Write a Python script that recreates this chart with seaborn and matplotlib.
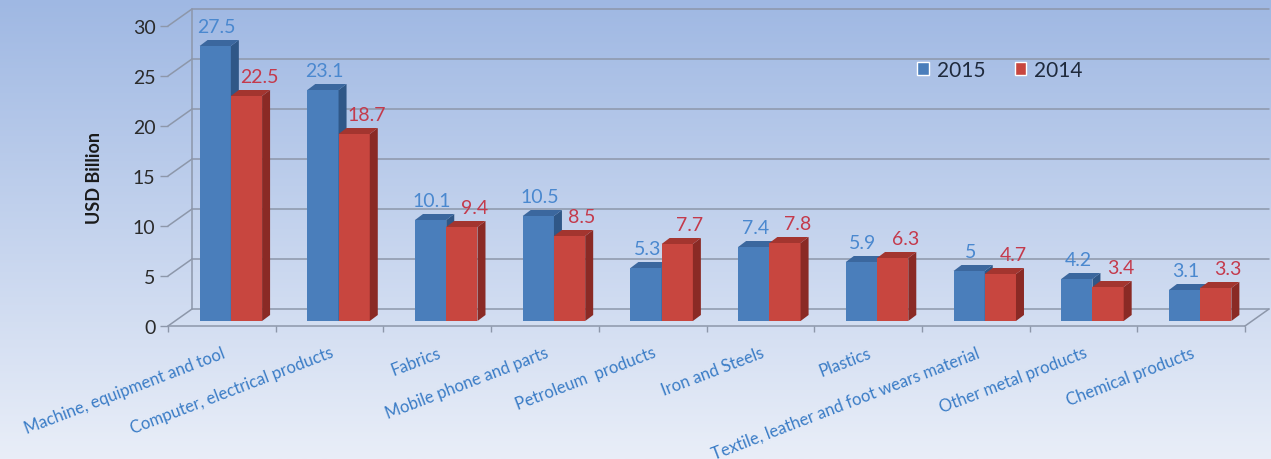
import numpy as np
import pandas as pd
import matplotlib
matplotlib.use("Agg")
import matplotlib.pyplot as plt
import matplotlib.colors as mcolors
import matplotlib.transforms as mtransforms
from matplotlib.patches import Polygon
import seaborn as sns

# data
categories = ["Machine, equipment and tool", "Computer, electrical products", "Fabrics",
              "Mobile phone and parts", "Petroleum  products", "Iron and Steels", "Plastics",
              "Textile, leather and foot wears material", "Other metal products", "Chemical products"]
values_2015 = [27.5, 23.1, 10.1, 10.5, 5.3, 7.4, 5.9, 5.0, 4.2, 3.1]
values_2014 = [22.5, 18.7, 9.4, 8.5, 7.7, 7.8, 6.3, 4.7, 3.4, 3.3]
years = ["2015", "2014"]
y_ticks = [0, 5, 10, 15, 20, 25, 30]

front_colors = {"2015": "#4a7ebb", "2014": "#c8463f"}
side_colors = {"2015": "#2f5787", "2014": "#8a2a25"}
top_colors = {"2015": "#3b679e", "2014": "#a3352f"}
label_colors = {"2015": "#4a88cf", "2014": "#c43a4c"}
grid_color = "#8d97aa"

df = pd.DataFrame({
    "category": categories * 2,
    "value": values_2015 + values_2014,
    "year": [years[0]] * len(categories) + [years[1]] * len(categories),
})

sns.set_style("white")
plt.rcParams["font.family"] = ["Lato", "DejaVu Sans"]

W, H = 1271, 460
fig = plt.figure(figsize=(W / 100, H / 100), dpi=100)

# blue gradient background
bg = fig.add_axes([0, 0, 1, 1], zorder=-10)
top_c = np.array(mcolors.to_rgb("#9fb8e3"))
bot_c = np.array(mcolors.to_rgb("#e9eef8"))
t = np.linspace(0, 1, 256)[:, None, None]
bg.imshow(top_c + (bot_c - top_c) * t, aspect="auto", extent=[0, 1, 0, 1])
bg.axis("off")

# front plane of the plot, in pixels
x0, x1, y_bot, y_top = 168, 1245, 327, 27
ax = fig.add_axes([x0 / W, 1 - y_bot / H, (x1 - x0) / W, (y_bot - y_top) / H])
ax.set_facecolor("none")

sns.barplot(data=df, x="category", y="value", hue="year", hue_order=years,
            palette=front_colors, width=0.58, saturation=1, ax=ax)
ax.set_xlim(-0.5, len(categories) - 0.5)
ax.set_ylim(0, 30)

px_x = (x1 - x0) / len(categories)
px_y = (y_bot - y_top) / 30

# back wall / floor of the fake 3d box
wdx, wdy = 24 / px_x, 17 / px_y
xl, xr = -0.5, len(categories) - 0.5
lw = 1.1
for yt in y_ticks:
    ax.plot([xl + wdx, xr + wdx], [yt + wdy, yt + wdy], color=grid_color, lw=lw, clip_on=False, zorder=0.5)
    ax.plot([xl, xl + wdx], [yt, yt + wdy], color=grid_color, lw=lw, clip_on=False, zorder=0.5)
ax.plot([xl + wdx, xl + wdx], [wdy, 30 + wdy], color=grid_color, lw=lw, clip_on=False, zorder=0.5)
ax.plot([xl, xr], [0, 0], color=grid_color, lw=lw, clip_on=False, zorder=0.6)
ax.plot([xr, xr + wdx], [0, wdy], color=grid_color, lw=lw, clip_on=False, zorder=0.6)

# bars sit half way into the box, plus their own depth
bar_trans = ax.transData + mtransforms.ScaledTranslation(9 / 100, 5 / 100, fig.dpi_scale_trans)
ddx, ddy = 8 / px_x, 6 / px_y
label_dx = {"2015": 1, "2014": 9}
for k, (year, cont) in enumerate(zip(years, ax.containers)):
    for rect in cont:
        rect.set_transform(bar_trans)
        rect.set_zorder(2 + k)
        rect.set_edgecolor("none")
        rect.set_clip_on(False)
        bx, bw, bh = rect.get_x(), rect.get_width(), rect.get_height()
        side = Polygon([(bx + bw, 0), (bx + bw + ddx, ddy), (bx + bw + ddx, bh + ddy), (bx + bw, bh)],
                       closed=True, transform=bar_trans, fc=side_colors[year], ec="none",
                       zorder=2 + k, clip_on=False)
        top = Polygon([(bx, bh), (bx + ddx, bh + ddy), (bx + bw + ddx, bh + ddy), (bx + bw, bh)],
                      closed=True, transform=bar_trans, fc=top_colors[year], ec="none",
                      zorder=2 + k, clip_on=False)
        ax.add_patch(side)
        ax.add_patch(top)
        ax.annotate(f"{bh:g}", xy=(bx + bw / 2, bh), xycoords=bar_trans,
                    xytext=(label_dx[year], 8), textcoords="offset points",
                    ha="center", va="bottom", fontsize=14, color=label_colors[year],
                    annotation_clip=False)

for s in ax.spines.values():
    s.set_visible(False)

ax.set_yticks(y_ticks)
ax.tick_params(axis="y", length=6, width=1, color=grid_color, labelsize=14,
               labelcolor="#2b2b2b", pad=3, left=True)
ax.set_xticks(range(len(categories)), categories, rotation=21, ha="right",
              rotation_mode="anchor", fontsize=12, color="#3a7cc6")
ax.set_xticks(np.arange(-0.5, len(categories)), minor=True)
ax.tick_params(axis="x", which="major", length=0, pad=13)
ax.tick_params(axis="x", which="minor", length=4, width=1, color=grid_color, bottom=True)
ax.set_xlabel("")
ax.set_ylabel("")

fig.text(95 / W, 1 - 178 / H, "USD Billion", rotation=90, ha="center", va="center",
         fontsize=13, fontweight="bold", color="#1a1a1a")

handles, labels = ax.get_legend_handles_labels()
ax.legend(handles, labels, loc="center", bbox_to_anchor=(1000 / W, 1 - 71 / H),
          bbox_transform=fig.transFigure, ncol=2, frameon=False, fontsize=15,
          handlelength=0.55, handleheight=0.55, handletextpad=0.4, columnspacing=1.4,
          labelcolor="#1f2a3c")

fig.savefig("out.png", dpi=100)
